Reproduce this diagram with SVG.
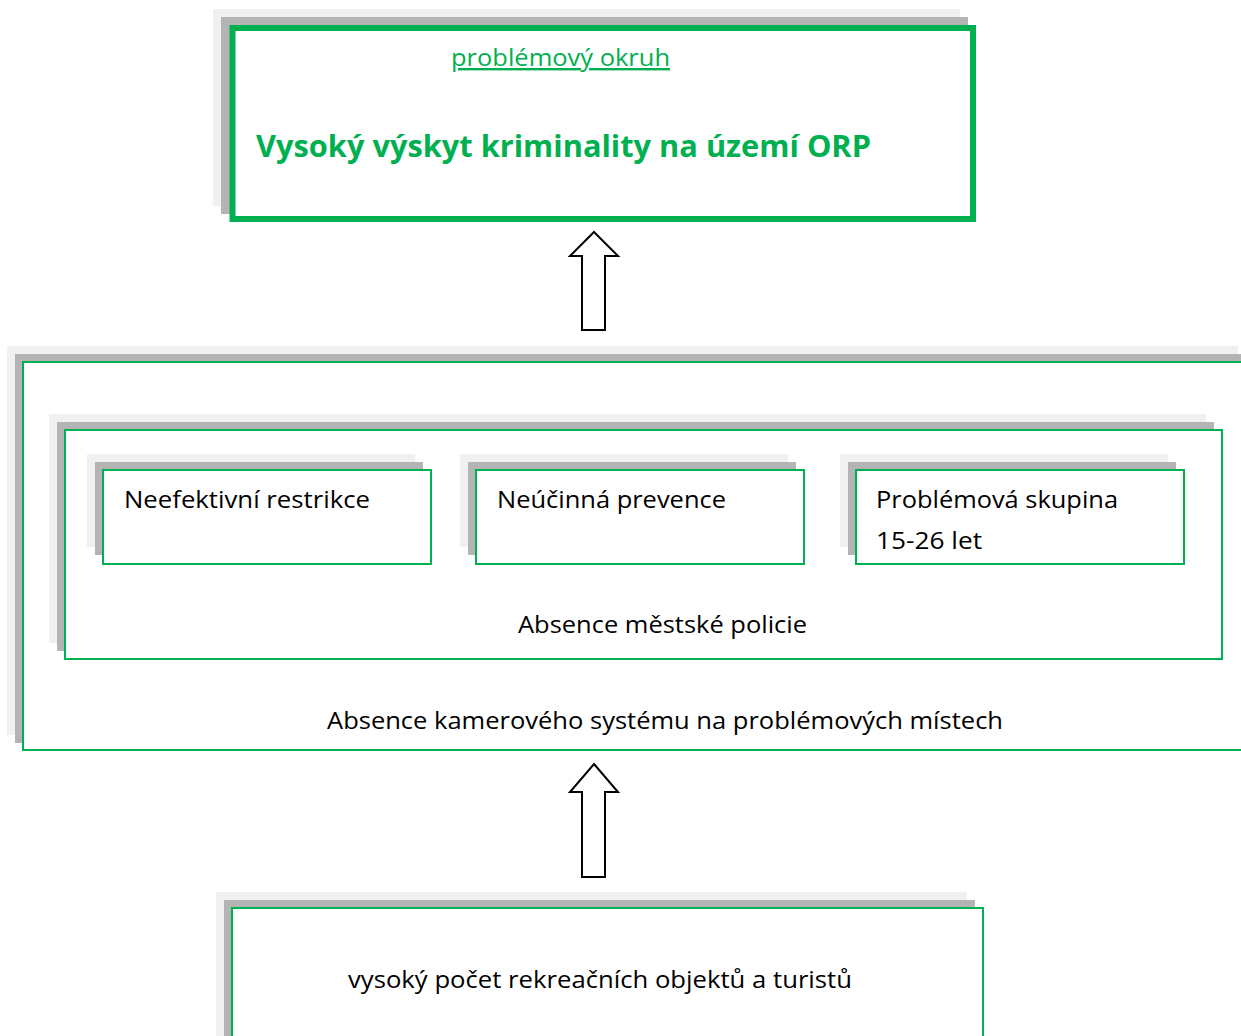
<svg xmlns="http://www.w3.org/2000/svg" width="1241" height="1036" viewBox="0 0 1241 1036">
<style>
.sh1{fill:#f0f0f0}
.sh2{fill:#b4b4b4}
.box{fill:#fff;stroke:#00b050;stroke-width:2}
.t{font-family:"Open Sans","Liberation Sans",sans-serif;font-size:23px;fill:#000}
.sub{font-family:"Open Sans","Liberation Sans",sans-serif;font-size:24px;fill:#00b050;text-decoration:underline}
.title{font-family:"Open Sans","Liberation Sans",sans-serif;font-size:31px;font-weight:bold;fill:#00b050}
.arrow{fill:#fff;stroke:#000;stroke-width:2;stroke-linejoin:miter}
</style>
<rect width="1241" height="1036" fill="#fff"/>
<g id="top">
<rect class="sh1" x="213" y="9" width="747" height="197"/>
<rect class="sh2" x="221" y="17" width="747" height="197"/>
<rect x="232.5" y="28" width="740.5" height="191" fill="#fff" stroke="#00b050" stroke-width="6"/>
<text class="sub" x="451" y="66" textLength="219" lengthAdjust="spacingAndGlyphs">problémový okruh</text>
<text class="title" x="256" y="157" textLength="615" lengthAdjust="spacingAndGlyphs">Vysoký výskyt kriminality na území ORP</text>
</g>
<g id="outer">
<rect class="sh1" x="7" y="346" width="1231" height="389"/>
<rect class="sh2" x="15" y="354" width="1231" height="389"/>
<rect class="box" x="23" y="362" width="1231" height="388"/>
<text class="t" x="327" y="729" textLength="676" lengthAdjust="spacingAndGlyphs">Absence kamerového systému na problémových místech</text>
</g>
<g id="inner">
<rect class="sh1" x="49" y="414" width="1157" height="229"/>
<rect class="sh2" x="57" y="422" width="1157" height="229"/>
<rect class="box" x="65" y="430" width="1157" height="229"/>
<text class="t" x="518" y="633" textLength="289" lengthAdjust="spacingAndGlyphs">Absence městské policie</text>
</g>
<g id="b1">
<rect class="sh1" x="87" y="454" width="328" height="93"/>
<rect class="sh2" x="95" y="462" width="328" height="93"/>
<rect class="box" x="103" y="470" width="328" height="94"/>
<text class="t" x="124" y="508" textLength="246" lengthAdjust="spacingAndGlyphs">Neefektivní restrikce</text>
</g>
<g id="b2">
<rect class="sh1" x="460" y="454" width="328" height="93"/>
<rect class="sh2" x="468" y="462" width="328" height="93"/>
<rect class="box" x="476" y="470" width="328" height="94"/>
<text class="t" x="497" y="508" textLength="229" lengthAdjust="spacingAndGlyphs">Neúčinná prevence</text>
</g>
<g id="b3">
<rect class="sh1" x="840" y="454" width="328" height="93"/>
<rect class="sh2" x="848" y="462" width="328" height="93"/>
<rect class="box" x="856" y="470" width="328" height="94"/>
<text class="t" x="876" y="508" textLength="242" lengthAdjust="spacingAndGlyphs">Problémová skupina</text>
<text class="t" x="876" y="549" textLength="106" lengthAdjust="spacingAndGlyphs">15-26 let</text>
</g>
<g id="bottom">
<rect class="sh1" x="216" y="892" width="751" height="200"/>
<rect class="sh2" x="224" y="900" width="751" height="200"/>
<rect class="box" x="232" y="908" width="751" height="200"/>
<text class="t" x="348" y="988" textLength="504" lengthAdjust="spacingAndGlyphs">vysoký počet rekreačních objektů a turistů</text>
</g>
<g id="connectors">
<polygon class="arrow" points="594,232 618,256 605,256 605,330 582,330 582,256 570,256"/>
<polygon class="arrow" points="594,764 618,792 605,792 605,877 582,877 582,792 570,792"/>
</g>
</svg>
